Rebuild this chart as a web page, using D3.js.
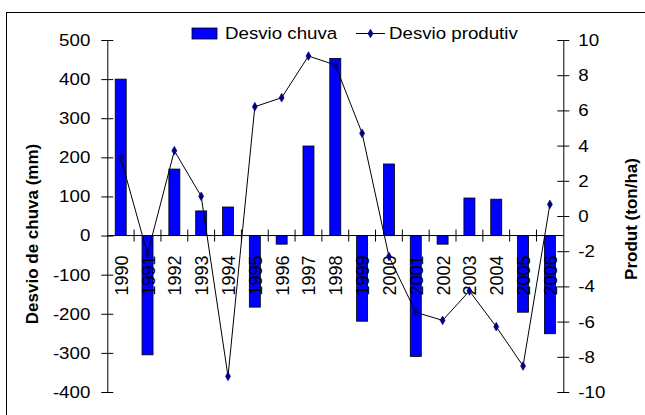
<!DOCTYPE html>
<html>
<head>
<meta charset="utf-8">
<script src="https://cdn.jsdelivr.net/npm/d3@7"></script>
<style>
  html, body { margin: 0; padding: 0; background: #fff; }
  svg { display: block; }
  text { font-family: "Liberation Sans", Arial, sans-serif; fill: #000; }
</style>
</head>
<body>
<svg id="chart" width="645" height="415"></svg>
<script>
// Annual deviations, 1990–2006
const years = ["1990","1991","1992","1993","1994","1995","1996","1997","1998",
               "1999","2000","2001","2002","2003","2004","2005","2006"];
// rainfall deviation (mm) — bars, left axis
const rainDev = [400, -305, 170, 63, 73, -183, -22, 229, 453, -219, 183, -309, -22, 96, 93, -196, -251];
// productivity deviation (ton/ha) — line, right axis
const yieldDev = [3.31, -2.15, 3.71, 1.12, -9.11, 6.21, 6.72, 9.09, 8.58, 4.70, -2.3, -5.47, -5.93, -4.26, -6.29, -8.52, 0.66];
const leftTicks = [500, 400, 300, 200, 100, 0, -100, -200, -300, -400];
const rightTicks = [10, 8, 6, 4, 2, 0, -2, -4, -6, -8, -10];

const svg = d3.select("#chart");
const plot = { left: 107.3, right: 563.3, top: 40, bottom: 392 };
const FS = 17;          // label font size
const SX = 1.1;         // horizontal widening of labels

// widen a horizontal text around its own anchor x
function widen(sel) {
  sel.each(function () {
    const t = d3.select(this);
    const x = +t.attr("x") || 0;
    t.attr("transform", `translate(${x},0) scale(${SX},1) translate(${-x},0)`);
  });
}

// outer chart frame
svg.append("rect")
  .attr("x", 6.5).attr("y", 12.5).attr("width", 700).attr("height", 500)
  .attr("fill", "none").attr("stroke", "#000").attr("stroke-width", 1);

const x = d3.scaleBand().domain(years).range([plot.left, plot.right])
  .paddingInner(0.59).paddingOuter(0.295);
const yL = d3.scaleLinear().domain([-400, 500]).range([plot.bottom, plot.top]);
const yR = d3.scaleLinear().domain([-10, 10]).range([plot.bottom, plot.top]);

// bars
svg.append("g").selectAll("rect").data(years).join("rect")
  .attr("x", d => x(d))
  .attr("width", x.bandwidth())
  .attr("y", (d, i) => yL(Math.max(0, rainDev[i])))
  .attr("height", (d, i) => Math.abs(yL(rainDev[i]) - yL(0)))
  .attr("fill", "#0000ff").attr("stroke", "#000").attr("stroke-width", 0.8);

// left axis
const gL = svg.append("g").attr("transform", `translate(${plot.left},0)`)
  .call(d3.axisLeft(yL).tickValues(leftTicks).tickFormat(d => String(d))
    .tickSizeInner(6).tickSizeOuter(0).tickPadding(11));
gL.select(".domain").attr("stroke", "#000");
gL.selectAll(".tick line").attr("x1", 6).attr("x2", -6);
gL.selectAll(".tick text").attr("font-size", FS).attr("font-family", "Liberation Sans, Arial, sans-serif").call(widen);

// right axis
const gR = svg.append("g").attr("transform", `translate(${plot.right},0)`)
  .call(d3.axisRight(yR).tickValues(rightTicks).tickFormat(d => String(d))
    .tickSizeInner(6).tickSizeOuter(0).tickPadding(9));
gR.selectAll(".tick line").attr("x1", -6).attr("x2", 6);
gR.selectAll(".tick text").attr("font-size", FS).attr("font-family", "Liberation Sans, Arial, sans-serif").call(widen);

// category axis on the zero line
const boundaries = years.slice(1).map(d => x(d) - x.step() * x.paddingInner() / 2);
const gX = svg.append("g").attr("transform", `translate(0,${yL(0)})`);
gX.append("line").attr("x1", plot.left).attr("x2", plot.right)
  .attr("stroke", "#000").attr("stroke-width", 1);
gX.selectAll("line.tk").data(boundaries).join("line").attr("class", "tk")
  .attr("x1", d => d).attr("x2", d => d).attr("y1", -6).attr("y2", 6)
  .attr("stroke", "#000");
gX.selectAll("text").data(years).join("text")
  .attr("transform", d => `translate(${x(d) + x.bandwidth() / 2 + 7},20) rotate(-90)`)
  .attr("text-anchor", "end")
  .attr("font-size", 18)
  .text(d => d);

// productivity line
const line = d3.line()
  .x((d, i) => x(years[i]) + x.bandwidth() / 2)
  .y(d => yR(d));
svg.append("path").datum(yieldDev)
  .attr("d", line).attr("fill", "none").attr("stroke", "#000").attr("stroke-width", 1);
const diamond = d3.symbol().type(d3.symbolDiamond2 || d3.symbolDiamond).size(26);
svg.append("g").selectAll("path").data(yieldDev).join("path")
  .attr("transform", (d, i) => `translate(${x(years[i]) + x.bandwidth() / 2},${yR(d)})`)
  .attr("d", d3.symbol().type(d3.symbolDiamond).size(22))
  .attr("fill", "#000080").attr("stroke", "#000080").attr("stroke-width", 0.6);

// axis titles
svg.append("text")
  .attr("transform", `translate(37.5,234) rotate(-90)`)
  .attr("text-anchor", "middle").attr("font-weight", "bold").attr("font-size", FS)
  .text("Desvio de chuva (mm)");
svg.append("text")
  .attr("transform", `translate(637,219) rotate(-90)`)
  .attr("text-anchor", "middle").attr("font-weight", "bold").attr("font-size", FS)
  .text("Produt (ton/ha)");

// legend
const lg = svg.append("g");
lg.append("rect").attr("x", 192).attr("y", 28).attr("width", 25).attr("height", 11)
  .attr("fill", "#0000ff").attr("stroke", "#000").attr("stroke-width", 0.8);
lg.append("text").attr("x", 225).attr("y", 39.5).attr("font-size", FS)
  .text("Desvio chuva").call(widen);
lg.append("line").attr("x1", 356).attr("x2", 385).attr("y1", 33.5).attr("y2", 33.5)
  .attr("stroke", "#000");
lg.append("path").attr("transform", "translate(370.5,33.5)")
  .attr("d", d3.symbol().type(d3.symbolDiamond).size(22))
  .attr("fill", "#000080").attr("stroke", "#000080").attr("stroke-width", 0.6);
lg.append("text").attr("x", 389).attr("y", 39.5).attr("font-size", FS)
  .text("Desvio produtiv").call(widen);
</script>
</body>
</html>
